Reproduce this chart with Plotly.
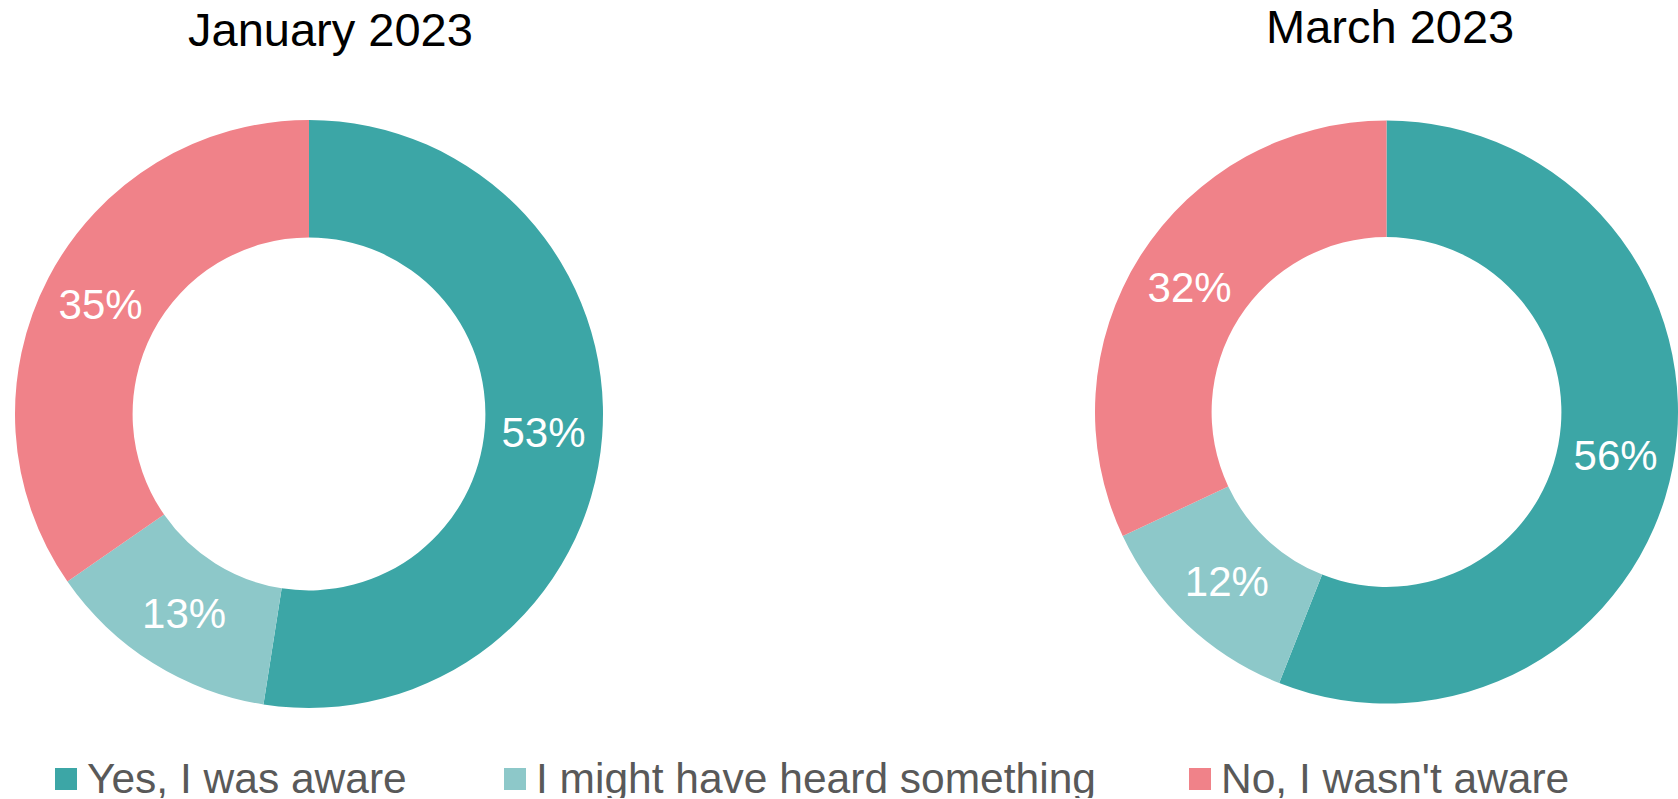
import plotly.graph_objects as go

W, H = 1678, 799

categories = ["Yes, I was aware", "I might have heard something", "No, I wasn't aware"]
jan_values = [53, 13, 35]
mar_values = [56, 12, 32]
titles = ["January 2023", "March 2023"]
colors = ["#3CA6A6", "#8DC8C9", "#F08289"]

FONT = "Liberation Sans, Arial, sans-serif"

def px_x(v):
    return v / W

def px_y(v):
    return 1 - v / H

fig = go.Figure()

pie_style = dict(
    hole=0.6, sort=False, direction="clockwise", rotation=0,
    marker=dict(colors=colors, line=dict(width=0)),
    texttemplate="%{value}%", textposition="inside",
    insidetextorientation="horizontal",
    textfont=dict(family=FONT, size=42, color="white"),
    showlegend=False, hoverinfo="label+value",
)

fig.add_trace(go.Pie(
    labels=categories, values=jan_values,
    domain=dict(x=[px_x(15), px_x(603)], y=[px_y(708), px_y(120)]),
    **pie_style,
))

fig.add_trace(go.Pie(
    labels=categories, values=mar_values,
    domain=dict(x=[px_x(1095), 1.0], y=[px_y(703.5), px_y(120.5)]),
    **pie_style,
))

annotations = []
title_pos = [(330, 29), (1390, 26)]
for t, (tx, ty) in zip(titles, title_pos):
    annotations.append(dict(
        text=t, x=px_x(tx), y=px_y(ty), xref="paper", yref="paper",
        xanchor="center", yanchor="middle", showarrow=False,
        font=dict(family=FONT, size=47, color="black"),
    ))

# legend drawn with large square swatches
legend_x = [55, 504, 1189]
shapes = []
for lab, col, lx in zip(categories, colors, legend_x):
    shapes.append(dict(
        type="rect", xref="paper", yref="paper",
        x0=px_x(lx), x1=px_x(lx + 22), y0=px_y(790), y1=px_y(768),
        fillcolor=col, line=dict(width=0),
    ))
    annotations.append(dict(
        text=lab, x=px_x(lx + 30), y=px_y(778), xref="paper", yref="paper",
        xanchor="left", yanchor="middle", showarrow=False, height=40,
        font=dict(family=FONT, size=42.5, color="#595959"),
    ))

fig.update_layout(
    width=W, height=H,
    margin=dict(l=0, r=0, t=0, b=0),
    paper_bgcolor="white", plot_bgcolor="white",
    annotations=annotations, shapes=shapes,
    showlegend=False,
)

fig.write_html(
    "out.html",
    config={"displayModeBar": False},
    post_script="document.body.style.margin='0';document.body.style.overflow='hidden';",
)
